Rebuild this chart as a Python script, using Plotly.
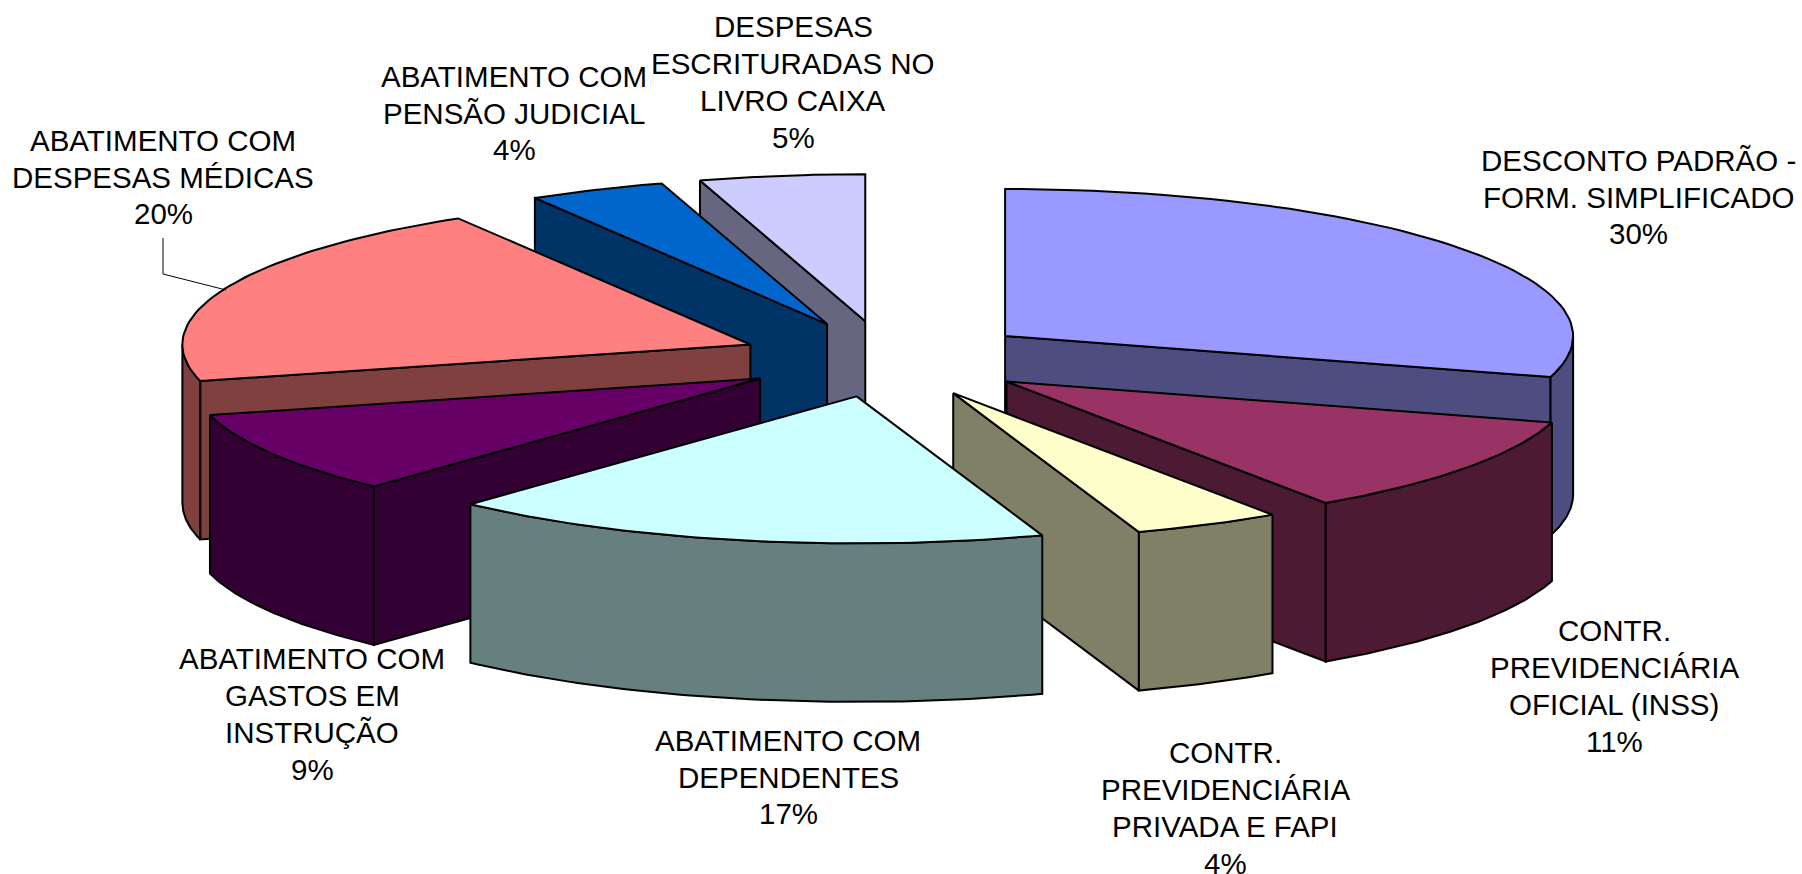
import math
import plotly.graph_objects as go

CATEGORIES = [
    "DESCONTO PADRÃO -<br>FORM. SIMPLIFICADO",
    "CONTR.<br>PREVIDENCIÁRIA<br>OFICIAL (INSS)",
    "CONTR.<br>PREVIDENCIÁRIA<br>PRIVADA E FAPI",
    "ABATIMENTO COM<br>DEPENDENTES",
    "ABATIMENTO COM<br>GASTOS EM<br>INSTRUÇÃO",
    "ABATIMENTO COM<br>DESPESAS MÉDICAS",
    "ABATIMENTO COM<br>PENSÃO JUDICIAL",
    "DESPESAS<br>ESCRITURADAS NO<br>LIVRO CAIXA",
]
VALUES = [29.5, 11.0, 4.2, 17.2, 9.1, 20.4, 3.9, 4.7]
PERCENT_LABELS = ["30%", "11%", "4%", "17%", "9%", "20%", "4%", "5%"]
TOP_COLORS = ["#9999FF", "#993366", "#FFFFCC", "#CCFFFF", "#660066", "#FF8080", "#0066CC", "#CCCCFF"]
SIDE_COLORS = ["#4D4D80", "#4D1A33", "#808066", "#668080", "#330033", "#804040", "#003366", "#666680"]
# label centre, in page pixels
LABEL_X = [1638, 1614, 1225, 788, 312, 163, 514, 793]
LABEL_Y = [197, 686, 808, 777, 714, 177, 113, 82]
LINE_GAP = 36.9
# painter's order: back to front
DRAW_ORDER = [7, 6, 0, 5, 1, 4, 2, 3]

W, H = 1802, 874
CX, CY = 887.0, 359.0
RX, RY = 568.0, 147.0
DEPTH = 158.5
EXPLODE = 0.26
LINE = 2.0
FONT = 29.5


def pt(ox, oy, deg, dz=0.0):
    t = math.radians(deg)
    return ox + RX * math.sin(t), oy - RY * math.cos(t) + dz


def arc(ox, oy, a, b, dz=0.0, n=60):
    return [pt(ox, oy, a + (b - a) * i / n, dz) for i in range(n + 1)]


def face(fig, points, color):
    xs = [p[0] for p in points] + [points[0][0]]
    ys = [p[1] for p in points] + [points[0][1]]
    fig.add_trace(go.Scatter(
        x=xs, y=ys, mode="lines", fill="toself", fillcolor=color,
        line=dict(color="black", width=LINE, shape="linear"),
        hoverinfo="skip", showlegend=False,
    ))


total = sum(VALUES)
starts, acc = [], 0.0
for v in VALUES:
    starts.append(acc / total * 360)
    acc += v

fig = go.Figure()
for i in DRAW_ORDER:
    s = starts[i]
    e = s + VALUES[i] / total * 360
    mid = math.radians((s + e) / 2)
    ox = CX + EXPLODE * RX * math.sin(mid)
    oy = CY - EXPLODE * RY * math.cos(mid)
    # radial walls facing the viewer
    for ang, visible in ((s, math.sin(math.radians(s)) < -1e-6), (e, math.sin(math.radians(e)) > 1e-6)):
        if visible:
            p = pt(ox, oy, ang)
            face(fig, [(ox, oy), p, (p[0], p[1] + DEPTH), (ox, oy + DEPTH)], SIDE_COLORS[i])
    # outer wall, front half only
    a, b = max(s, 90), min(e, 270)
    if a < b:
        top = arc(ox, oy, a, b)
        bottom = arc(ox, oy, a, b, DEPTH)
        face(fig, top + bottom[::-1], SIDE_COLORS[i])
    # top face
    face(fig, [(ox, oy)] + arc(ox, oy, s, e), TOP_COLORS[i])

# leader line of the medical-expenses label
fig.add_trace(go.Scatter(
    x=[163, 163, 226], y=[238, 274, 290], mode="lines",
    line=dict(color="black", width=1), hoverinfo="skip", showlegend=False,
))

annotations = []
for i in range(len(CATEGORIES)):
    lines = CATEGORIES[i].split("<br>") + [PERCENT_LABELS[i]]
    for j, text in enumerate(lines):
        annotations.append(dict(
            x=LABEL_X[i], y=LABEL_Y[i] + (j - (len(lines) - 1) / 2) * LINE_GAP,
            xref="x", yref="y", text=text,
            showarrow=False, align="center", xanchor="center", yanchor="middle",
            font=dict(family="Liberation Sans, Arial, sans-serif", size=FONT, color="black"),
        ))

fig.update_layout(
    width=W, height=H, autosize=False,
    margin=dict(l=0, r=0, t=0, b=0),
    paper_bgcolor="white", plot_bgcolor="white",
    showlegend=False, annotations=annotations,
    xaxis=dict(range=[0, W], visible=False, fixedrange=True),
    yaxis=dict(range=[H, 0], visible=False, fixedrange=True),
)
fig.write_html(
    "out.html", config=dict(displayModeBar=False),
    post_script="document.body.style.margin='0';document.documentElement.style.overflow='hidden';",
)
